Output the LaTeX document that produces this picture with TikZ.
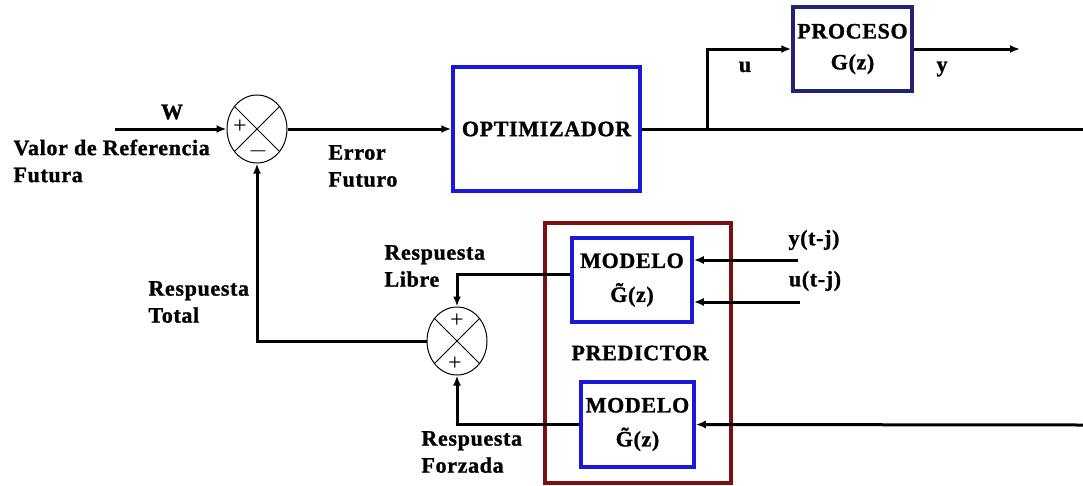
\documentclass[tikz,border=0pt]{standalone}
\usepackage{fontspec}
\newfontfamily\diafont[LetterSpace=3, BoldFeatures={FakeBold=1.2}]{Liberation Serif}
\usetikzlibrary{arrows.meta, shapes.geometric}

\definecolor{optblue}{RGB}{25,25,215}
\definecolor{procnavy}{RGB}{35,35,115}
\definecolor{predred}{RGB}{125,15,15}

\begin{document}
\begin{tikzpicture}[
        x = 1pt, y = -1pt, line width = 3pt,
        >= {Latex[length = 10pt, width = 8pt]},
        every node/.style = {font = \diafont\bfseries\fontsize{22}{27}\selectfont, inner sep = 0pt},
        block/.style = {draw = #1, line width = 3.5pt, align = center, fill = white},
        lbl/.style = {anchor = west, align = left},
        sum/.style = {ellipse, draw, line width = 1pt, minimum width = 60pt, minimum height = 68pt},
        sgn/.style = {font = \diafont\mdseries\fontsize{24}{24}\selectfont}
    ]
      \useasboundingbox (0,0) rectangle (1083,485);

      % summing points
      \node[sum] (sum_e) at (257,129) {};
      \node[sum] (sum_r) at (457,341) {};
      \foreach \s in {sum_e, sum_r} {
        \draw[line width = 1pt] (\s.45) -- (\s.225) (\s.135) -- (\s.315);
      }
      \node[sgn] at (240,127) {+};
      \node[sgn] at (258,151) {$-$};
      \node[sgn] at (457,321) {+};
      \node[sgn] at (455,364) {+};

      % blocks
      \node[block = optblue, minimum width = 187pt, minimum height = 124pt] (opt) at (546.5,129) {OPTIMIZADOR};
      \node[block = procnavy, minimum width = 119pt, minimum height = 84pt, font = \diafont\bfseries\fontsize{22}{31}\selectfont] (proc) at (852.5,49) {PROCESO\\G(z)};
      \node[block = predred, fill = none, minimum width = 186pt, minimum height = 260pt] (pred) at (638,353) {};
      \node (pred_lbl) at (640,353) {PREDICTOR};
      \node[block = optblue, minimum width = 120pt, minimum height = 84pt] (mod_l) at (632,280) {MODELO\\[7pt]\~{G}(z)};
      \node[block = optblue, minimum width = 113pt, minimum height = 85pt] (mod_f) at (637.5,424.5) {MODELO\\[7pt]\~{G}(z)};

      % free ends
      \coordinate (w_in) at (115,129);
      \coordinate (u_br) at (707,129);
      \coordinate (u_out) at (1083,129);
      \coordinate (y_out) at (1020,49);
      \coordinate (y_in) at (798,260);
      \coordinate (u_in) at (800,302);
      \coordinate (u_f) at (1083,425);

      % connectors
      \draw[->] (w_in) -- (sum_e.west);
      \draw[->] (sum_e.east) -- (opt.west);
      \draw (opt.east) -- (u_out);
      \draw[->] (u_br) |- (proc.west);
      \draw[->] (proc.east) -- (y_out);
      \draw[->] (y_in) -- (y_in -| mod_l.east);
      \draw[->] (u_in) -- (u_in -| mod_l.east);
      \draw[->] (u_f) -- (mod_f.east);
      \draw[->] ([yshift = 6pt]mod_l.west) -| (sum_r.north);
      \draw[->] (mod_f.west) -| (sum_r.south);
      \draw[->] (sum_r.west) -| (sum_e.south);

      % labels
      \node (w_lbl) at (172,112) {W};
      \node[lbl] (ref_lbl) at (12,161) {Valor de Referencia\\Futura};
      \node[lbl] (err_lbl) at (327,166) {Error\\Futuro};
      \node (u_lbl) at (745,67) {u};
      \node (y_lbl) at (942,69) {y};
      \node (yj_lbl) at (814,240) {y(t-j)};
      \node (uj_lbl) at (815,281) {u(t-j)};
      \node[lbl] (tot_lbl) at (147,302) {Respuesta\\Total};
      \node[lbl] (lib_lbl) at (383,266) {Respuesta\\Libre};
      \node[lbl] (forz_lbl) at (420,452) {Respuesta\\Forzada};
    \end{tikzpicture}
\end{document}
